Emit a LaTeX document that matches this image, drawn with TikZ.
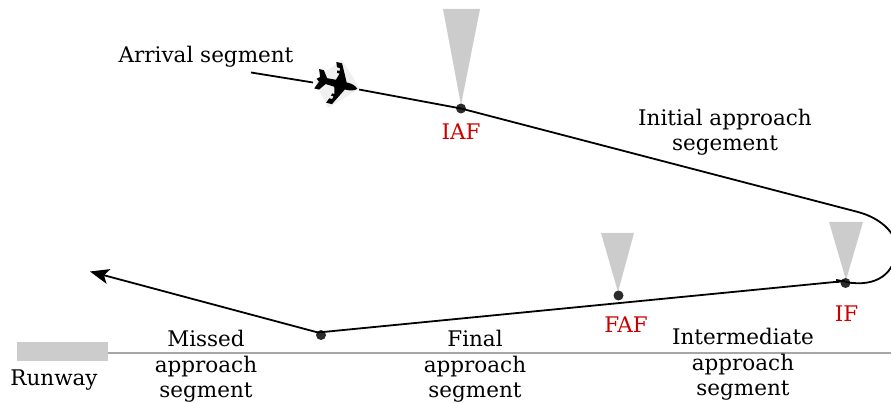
\documentclass[tikz,border=0pt]{standalone}
\usepackage{fontspec}
\setmainfont{DejaVu Serif}
\usetikzlibrary{arrows.meta}
\definecolor{fixred}{HTML}{CC0000}
\definecolor{conegray}{HTML}{CCCCCC}
\definecolor{dotgray}{HTML}{2B2B2B}
\tikzset{
  x=1pt,y=-1pt,
  label/.style={font=\fontsize{21.5}{25.5}\selectfont,align=center,inner sep=0pt,text=black},
  fixlabel/.style={font=\fontsize{21.5}{25}\selectfont,inner sep=0pt,text=fixred},
  cone/.style={fill=conegray,draw=none},
  track/.style={draw=black,line width=1.8pt},
  fixdot/.style={circle,fill=dotgray,draw=none,minimum size=10pt,inner sep=0pt},
}
\begin{document}
\begin{tikzpicture}
\useasboundingbox (0,0) rectangle (891,403);
\clip (0,0) rectangle (891,403);
% cones
\fill[conegray] (443,9) -- (480,9) -- (461,105) -- cycle;
\fill[conegray] (601,233) -- (634,233) -- (618,292) -- cycle;
\fill[conegray] (829,222) -- (863,222) -- (846,280) -- cycle;
% runway
\node[fill=conegray,draw=none,minimum width=91pt,minimum height=19pt,inner sep=0pt] (runway) at (62.5,351.5) {};
\coordinate (runend) at (891,353);
\draw[draw=black!35,line width=1.8pt] (runway.east |- runend) -- (runend);
% fixes
\node[fixdot] (iaf) at (461,108.5) {};
\node[fixdot] (faf) at (618.5,295.5) {};
\node[fixdot] (if) at (845.5,283) {};
\node[fixdot] (map) at (321,335) {};
% free ends
\coordinate (arrstart) at (251,72.5);
\coordinate (arrend) at (313,82.5);
\coordinate (after) at (359,89.5);
\coordinate (turn) at (858,212);
\coordinate (miss) at (90,271.5);
\coordinate (ifin) at (845,281);
\coordinate (mapc) at (318,332.5);
% track
\draw[track] (arrstart) -- (arrend);
\draw[track] (after) -- (iaf.center) -- (turn)
  .. controls (880,218) and (896,232) .. (896,248)
  .. controls (896,272) and (878,288) .. (845.5,282);
\draw[track] (ifin) -- (mapc);
\draw[track,-{Stealth[length=19pt,width=15pt,inset=4.5pt]}] (mapc) -- (miss);
\fill[black] (846,281) -- (836,279) -- (836,283) -- cycle;
% aeroplane
\fill[black!6] (342,60) -- (360,88) -- (328,108) -- (314,80) -- cycle;
\begin{scope}[shift={(338,84)},rotate=-14]
\fill[black]
  (20,0) .. controls (17,-3) and (13,-3.6) .. (10,-3.6)
  -- (8,-3.6) -- (-1,-21) -- (-7,-21) -- (-5,-16) -- (-2,-16) -- (-1.5,-13) -- (-4,-13) -- (-3.5,-10.5) -- (-1,-10.5)
  -- (-3,-3.6) -- (-12,-3) -- (-17,-10) -- (-22,-10) -- (-19,-2.4) -- (-22,0)
  -- (-19,2.4) -- (-22,10) -- (-17,10) -- (-12,3) -- (-3,3.6)
  -- (-1,10.5) -- (-3.5,10.5) -- (-4,13) -- (-1.5,13) -- (-2,16) -- (-5,16) -- (-7,21) -- (-1,21) -- (8,3.6) -- (10,3.6)
  .. controls (13,3.6) and (17,3) .. (20,0) -- cycle;
\end{scope}
% labels
\node[label] (larr) at (206,56.5) {Arrival segment};
\node[label] (linit) at (725,132) {Initial approach\\segement};
\node[label] (lmiss) at (206,366.5) {Missed\\approach\\segment};
\node[label] (lfinal) at (475,366.5) {Final\\approach\\segment};
\node[label] (linter) at (743,364.5) {Intermediate\\approach\\segment};
\node[label] (lrun) at (54,380.5) {Runway};
\node[fixlabel] (liaf) at (461,131.5) {IAF};
\node[fixlabel] (lfaf) at (626,324.5) {FAF};
\node[fixlabel] (lif) at (846.5,313.5) {IF};
\end{tikzpicture}
\end{document}
